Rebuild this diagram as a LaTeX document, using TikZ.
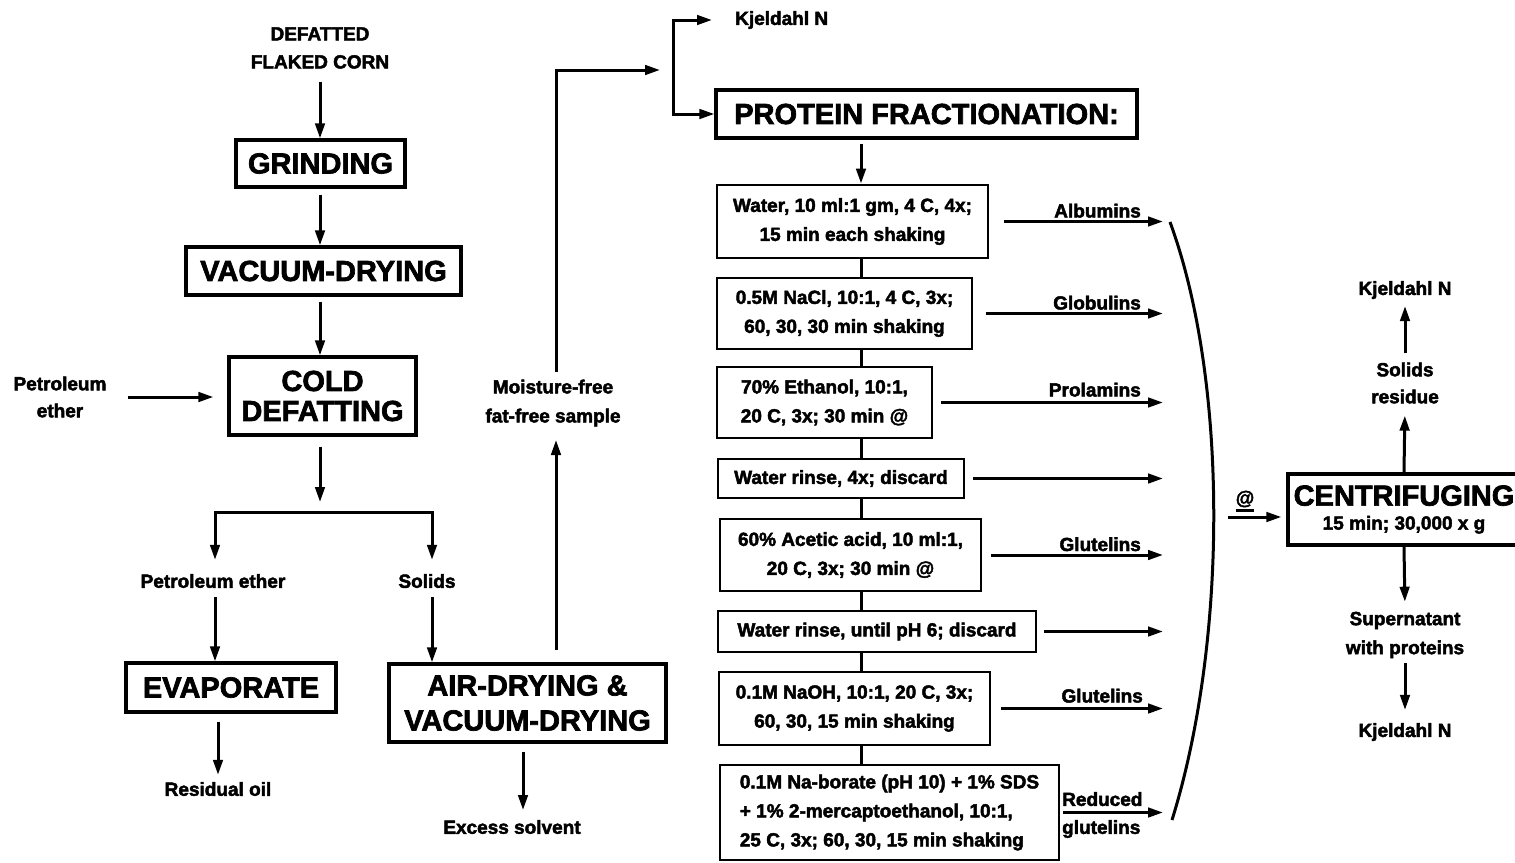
\documentclass[tikz,border=0pt]{standalone}
\usepackage{fontspec}
\setmainfont{Liberation Sans}[BoldFeatures={FakeBold=2.4}]
\usetikzlibrary{arrows.meta}
\begin{document}
\begin{tikzpicture}[x=1pt,y=-1pt,
  arr/.style={line width=3pt,-{Triangle[length=15pt,width=9.5pt]}},
  conn/.style={line width=3pt},
  bigbox/.style={draw,line width=3.2pt,font=\fontsize{29}{31}\selectfont\bfseries,align=center,inner sep=0pt},
  stepbox/.style={draw,line width=2.8pt,font=\fontsize{19}{29}\selectfont\bfseries,align=center,inner sep=0pt},
  lbl/.style={font=\fontsize{19}{28}\selectfont\bfseries,align=center,inner sep=0pt},
]
\useasboundingbox (0,0) rectangle (1515,862);
\clip (0,0) rectangle (1515,862);
\fill[white] (0,0) rectangle (1515,862);

% ---------- sample preparation column ----------
\coordinate (lc) at (320,0);
\node[lbl] (corn) at (320,48) {DEFATTED\\FLAKED CORN};
\node[bigbox,minimum width=169pt,minimum height=47pt] (grind) at (320.5,163.5) {GRINDING};
\node[bigbox,minimum width=275pt,minimum height=48pt] (vac) at (323.5,271) {VACUUM-DRYING};
\node[bigbox,minimum width=187pt,minimum height=78pt,font=\fontsize{29}{30}\selectfont\bfseries] (cold) at (322.5,396) {COLD\\DEFATTING};
\node[lbl,font=\fontsize{19}{27}\selectfont\bfseries] (pe1) at (60,397) {Petroleum\\ether};

\draw[arr,shorten <=13pt] (corn.south -| lc) -- (lc |- grind.north);
\draw[arr,shorten <=6pt] (lc |- grind.south) -- (lc |- vac.north);
\draw[arr,shorten <=5pt] (lc |- vac.south) -- (lc |- cold.north);
\draw[arr,shorten <=21pt,shorten >=14pt] (pe1.east) -- (pe1.east -| cold.west);

% split after defatting
\coordinate (split) at (320,512);
\coordinate (spL) at (215,512);
\coordinate (spR) at (432,512);
\node[lbl] (pe2) at (213,581) {Petroleum ether};
\node[lbl] (sol) at (427,581) {Solids};
\draw[arr,shorten <=10pt,shorten >=10pt] (lc |- cold.south) -- (split);
\draw[arr,shorten >=14pt] (split) -| (spL |- pe2.north);
\draw[arr,shorten >=14pt] (split) -| (spR |- sol.north);

\node[bigbox,minimum width=210pt,minimum height=49pt] (evap) at (231,687.5) {EVAPORATE};
\node[bigbox,minimum width=277pt,minimum height=78pt,font=\fontsize{29}{35}\selectfont\bfseries] (air) at (527.5,703) {AIR-DRYING \&\\VACUUM-DRYING};
\draw[arr,shorten <=9pt] (spL |- pe2.south) -- (spL |- evap.north);
\draw[arr,shorten <=9pt] (spR |- sol.south) -- (spR |- air.north);

\node[lbl] (oil) at (218,789) {Residual oil};
\node[lbl] (exs) at (512,827) {Excess solvent};
\coordinate (exc) at (523,810);
\draw[arr,shorten <=8pt,shorten >=7pt] (oil.north |- evap.south) -- (oil.north);
\draw[arr,shorten <=8pt] (exc |- air.south) -- (exc);

% dried sample goes on to fractionation
\node[lbl,font=\fontsize{19}{29}\selectfont\bfseries] (mf) at (553,403) {Moisture-free\\fat-free sample};
\coordinate (mfb) at (556,440);
\coordinate (mft) at (556,372);
\coordinate (kin) at (660,70);
\draw[arr,shorten <=12pt] (mfb |- air.north) -- (mfb);
\draw[arr] (mft) |- (kin);

% ---------- protein fractionation ----------
\node[bigbox,minimum width=421pt,minimum height=48pt] (prot) at (926.5,114) {PROTEIN FRACTIONATION:};
\node[lbl,anchor=west] (kj1) at (735,20) {Kjeldahl N};
\coordinate (brx) at (673,0);
\draw[arr,shorten >=23pt] (brx |- prot.west) |- (kj1.west);
\draw[arr] (brx |- kj1.west) |- (prot.west);

\node[stepbox,minimum width=271pt,minimum height=73pt] (s1) at (852.5,221.5) {Water, 10 ml:1 gm, 4 C, 4x;\\15 min each shaking};
\node[stepbox,minimum width=255pt,minimum height=71pt] (s2) at (844.5,313.5) {0.5M NaCl, 10:1, 4 C, 3x;\\60, 30, 30 min shaking};
\node[stepbox,minimum width=215pt,minimum height=71pt] (s3) at (824.5,402.5) {70\% Ethanol, 10:1,\\20 C, 3x; 30 min @};
\node[stepbox,minimum width=246pt,minimum height=39pt] (s4) at (841,478.5) {Water rinse, 4x; discard};
\node[stepbox,minimum width=261pt,minimum height=72pt] (s5) at (850.5,555) {60\% Acetic acid, 10 ml:1,\\20 C, 3x; 30 min @};
\node[stepbox,minimum width=318pt,minimum height=41pt] (s6) at (877,631.5) {Water rinse, until pH 6; discard};
\node[stepbox,minimum width=271pt,minimum height=73pt] (s7) at (854.5,708.5) {0.1M NaOH, 10:1, 20 C, 3x;\\60, 30, 15 min shaking};
\node[stepbox,minimum width=339pt,minimum height=95pt,align=left] (s8) at (889.5,812.5) {0.1M Na-borate (pH 10) + 1\% SDS\\+ 1\% 2-mercaptoethanol, 10:1,\\25 C, 3x; 60, 30, 15 min shaking};

\coordinate (col) at (861,0);
\draw[arr,shorten <=4pt] (col |- prot.south) -- (col |- s1.north);
\foreach \a/\b in {s1/s2,s2/s3,s3/s4,s4/s5,s5/s6,s6/s7,s7/s8}
  \draw[conn] (col |- \a.south) -- (col |- \b.north);

% extracts collected from each step
\coordinate (tip) at (1163,0);
\foreach \s/\g in {s1/15,s2/13,s3/8,s4/8,s5/9,s6/7,s7/10,s8/3}
  \draw[arr] ([xshift=\g pt]\s.east) -- (\s.east -| tip);
\node[lbl,anchor=base east] (alb) at ([xshift=-22pt,yshift=4pt]s1.east -| tip) {Albumins};
\node[lbl,anchor=base east] (glo) at ([xshift=-22pt,yshift=4pt]s2.east -| tip) {Globulins};
\node[lbl,anchor=base east] (pro) at ([xshift=-22pt,yshift=6pt]s3.east -| tip) {Prolamins};
\node[lbl,anchor=base east] (gl1) at ([xshift=-22pt,yshift=4pt]s5.east -| tip) {Glutelins};
\node[lbl,anchor=base east] (gl2) at ([xshift=-20pt,yshift=6pt]s7.east -| tip) {Glutelins};
\node[lbl,align=left,anchor=west] (red) at (1062,815) {Reduced\\glutelins};

% collecting bracket
\coordinate (cvT) at (1170,222);
\coordinate (cvB) at (1172,820);
\draw[conn] (cvT) .. controls (1228,380) and (1228,640) .. (cvB);

% ---------- centrifuging ----------
\node[draw,line width=3.2pt,inner sep=0pt,align=center,minimum width=232pt,minimum height=71pt,
      font=\fontsize{19}{24}\selectfont\bfseries] (cent) at (1404,509.5)
  {{\fontsize{29}{29}\selectfont CENTRIFUGING}\\15 min; 30,000 x g};
\node[lbl] (atl) at (1245,499) {@};
\draw[line width=2.2pt] ([yshift=-3pt]atl.south west) -- ([yshift=-3pt]atl.south east);
\coordinate (atin) at (1228,517);
\draw[arr,shorten >=5pt] (atin) -- (atin -| cent.west);

\node[lbl] (kj2) at (1405,290) {Kjeldahl N};
\node[lbl,font=\fontsize{19}{27}\selectfont\bfseries] (sr) at (1405,383) {Solids\\residue};
\node[lbl,font=\fontsize{19}{29}\selectfont\bfseries] (sup) at (1405,635) {Supernatant\\with proteins};
\node[lbl] (kj3) at (1405,732) {Kjeldahl N};
\draw[arr,shorten >=12pt] (cent.north) -- (sr.south);
\draw[arr,shorten <=9pt,shorten >=7pt] (sr.north) -- (kj2.south);
\draw[arr,shorten >=10pt] (cent.south) -- (sup.north);
\draw[arr,shorten <=5pt,shorten >=13pt] (sup.south) -- (kj3.north);
\end{tikzpicture}
\end{document}
